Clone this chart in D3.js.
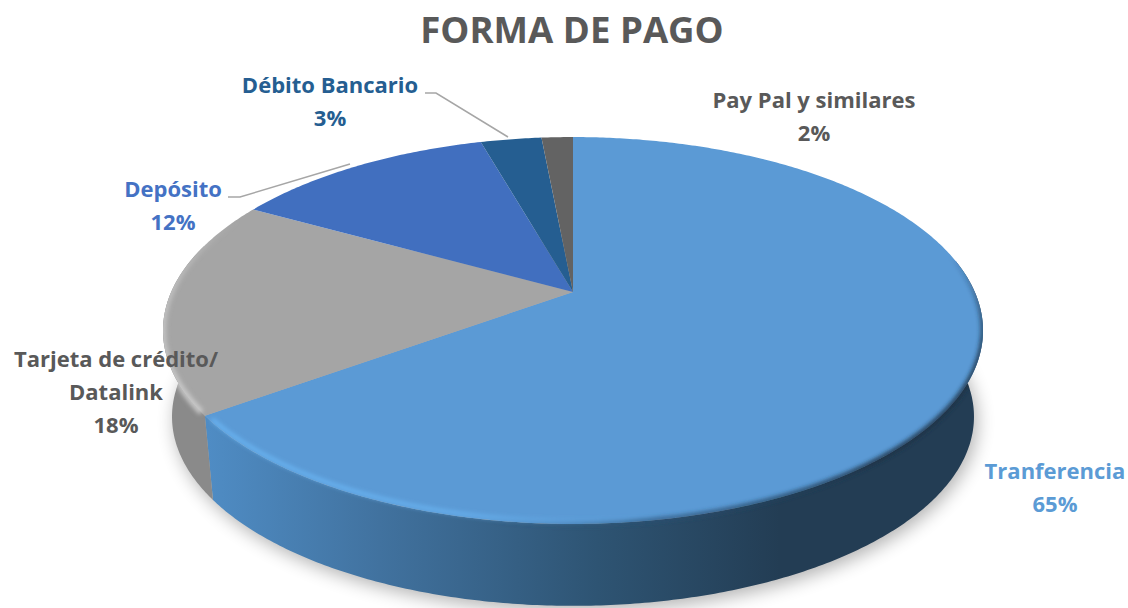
<!DOCTYPE html>
<html>
<head>
<meta charset="utf-8">
<script src="https://cdn.jsdelivr.net/npm/d3@7"></script>
<style>
html, body { margin: 0; padding: 0; background: #fff; overflow: hidden; }
text { font-family: "Open Sans", Lato, sans-serif; font-weight: 700; text-anchor: middle; }
</style>
</head>
<body>
<div id="chart"></div>
<script>
// the labels only show the rounded numbers
const categories = ["Tranferencia", "Tarjeta de crédito/ Datalink", "Depósito", "Débito Bancario", "Pay Pal y similares"];
const shares = [65.0, 18.1, 12.49, 2.91, 1.5];
const colors = ["#5B9AD5", "#A5A5A5", "#416FBF", "#255E91", "#636363"];
const textColors = ["#5B9BD5", "#595959", "#4472C4", "#255E91", "#595959"];

const width = 1128, height = 608;

// perspective of the disc
const cx = 573, cy = 292, rx = 401.8, ry = 185.8, k = 0.199;
const depthScale = 0.978, depth = 87;

function topPoint(a) {
    let u = Math.sin(a), v = -Math.cos(a), w = 1 - k * v;
    return [cx + rx * u / w, cy + ry * v / w];
}
function bottomPoint(a) {
    let p = topPoint(a);
    return [cx + (p[0] - cx) * depthScale, cy + (p[1] - cy) * depthScale + depth];
}
function arcAngles(a0, a1) {
    let n = Math.max(2, Math.ceil(Math.abs(a1 - a0) / 0.01));
    return d3.range(n + 1).map(i => a0 + (a1 - a0) * i / n);
}

const line = d3.line();
const arcs = d3.pie().sort(null).value(d => d)(shares);
const deg = Math.PI / 180;

const svg = d3.select("#chart").append("svg")
    .attr("width", width)
    .attr("height", height)
    .style("display", "block");

const defs = svg.append("defs");
[["blur9", 9], ["blur2", 2]].forEach(f => {
    defs.append("filter").attr("id", f[0])
        .attr("x", "-10%").attr("y", "-10%").attr("width", "120%").attr("height", "120%")
        .append("feGaussianBlur").attr("stdDeviation", f[1]);
});

const wallGrad = defs.append("linearGradient").attr("id", "wallBlue")
    .attr("gradientUnits", "userSpaceOnUse")
    .attr("x1", 208).attr("x2", 780).attr("y1", 0).attr("y2", 0);
[[0, "#4F8CC4"], [0.3, "#41729F"], [0.68, "#2E5473"], [1, "#233D54"]].forEach(s => {
    wallGrad.append("stop").attr("offset", s[0]).attr("stop-color", s[1]);
});

const whole = arcAngles(0, 2 * Math.PI);

// soft shadow under the disc
svg.append("path")
    .attr("d", line(whole.map(bottomPoint).map(p => [p[0] + 3, p[1] + 5])) + "Z")
    .attr("fill", "#000")
    .attr("opacity", 0.3)
    .attr("filter", "url(#blur9)");

// side wall, only the slices that face the front
const wallStart = 80 * deg, wallEnd = 285 * deg;
const wallG = svg.append("g");
const wallAngles = arcAngles(wallStart, wallEnd);
const wallOutline = line(wallAngles.map(topPoint).concat(wallAngles.slice().reverse().map(bottomPoint))) + "Z";
arcs.forEach((d, i) => {
    let a0 = Math.max(d.startAngle, wallStart), a1 = Math.min(d.endAngle, wallEnd);
    if (a1 <= a0) return;
    let angles = arcAngles(a0, a1);
    let pts = angles.map(topPoint).concat(angles.slice().reverse().map(bottomPoint));
    wallG.append("path")
        .attr("d", line(pts) + "Z")
        .attr("fill", i == 0 ? "url(#wallBlue)" : "#8A8A8A");
});

// top of the disc
const topG = svg.append("g");
arcs.forEach((d, i) => {
    let pts = [[cx, cy]].concat(arcAngles(d.startAngle, d.endAngle).map(topPoint));
    topG.append("path")
        .attr("d", line(pts) + "Z")
        .attr("fill", colors[i]);
});

// bevel along the rim, colour changes with the angle
const clip = defs.append("clipPath").attr("id", "discClip");
clip.append("path").attr("d", line(whole.map(topPoint)) + "Z");
clip.append("path").attr("d", wallOutline);

const bevel = svg.append("g").attr("clip-path", "url(#discClip)")
    .append("g").attr("filter", "url(#blur2)");

function rim(angles, colorStops, lift, strokeWidth) {
    let color = d3.scaleLinear().domain(angles).range(colorStops).interpolate(d3.interpolateRgb);
    let a0 = angles[0], a1 = angles[angles.length - 1];
    let steps = arcAngles(a0 * deg, a1 * deg);
    d3.pairs(steps).forEach(p => {
        bevel.append("path")
            .attr("d", line(p.map(topPoint).map(q => [q[0], q[1] - lift])))
            .attr("fill", "none")
            .attr("stroke", color(p[0] / deg))
            .attr("stroke-width", strokeWidth);
    });
}
// dark edge on the right and along the front
rim([78, 95, 110, 140, 170, 190],
    ["rgba(28,50,70,0)", "rgba(28,50,70,0.6)", "rgba(28,50,70,0.95)", "rgba(28,50,70,0.95)", "rgba(40,80,115,0.7)", "rgba(40,80,115,0)"],
    0, 5);
// light edge on the left
rim([170, 195, 232], ["rgba(108,184,246,0)", "rgba(108,184,246,0.85)", "rgba(108,184,246,1)"], 3, 3.5);
rim([235, 270, 295], ["rgba(205,205,205,0.95)", "rgba(200,200,200,0.8)", "rgba(200,200,200,0)"], 0, 6);

// leader lines
const leaders = [
    [[425, 93], [436, 93], [508, 137]],
    [[228, 197], [240, 197], [350, 164]]
];
svg.append("g").selectAll("path").data(leaders).join("path")
    .attr("d", d => line(d))
    .attr("fill", "none")
    .attr("stroke", "#A6A6A6")
    .attr("stroke-width", 1.5);

// title
svg.append("text")
    .attr("x", 572).attr("y", 43)
    .attr("font-size", 36.6)
    .attr("fill", "#595959")
    .text("FORMA DE PAGO");

// data labels
const labelLayout = [
    {x: 1055, y: 479, lines: ["Tranferencia"]},
    {x: 116, y: 367, lines: ["Tarjeta de crédito/", "Datalink"]},
    {x: 173, y: 197, lines: ["Depósito"]},
    {x: 330, y: 93, lines: ["Débito Bancario"]},
    {x: 814, y: 108, lines: ["Pay Pal y similares"]}
];
labelLayout.forEach((l, i) => {
    let t = svg.append("text")
        .attr("font-size", 22)
        .attr("fill", textColors[i]);
    l.lines.concat(Math.round(shares[i]) + "%").forEach((s, j) => {
        t.append("tspan")
            .attr("x", l.x)
            .attr("y", l.y + j * 33)
            .text(s);
    });
});
</script>
</body>
</html>
